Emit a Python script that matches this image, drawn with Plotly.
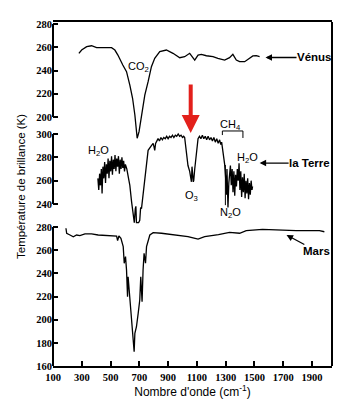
import plotly.graph_objects as go

# ---------------- data (wavenumber cm-1, brightness temperature K) ----------------
venus_wn = [280, 299, 334, 368, 403, 447, 507, 530, 551, 585, 611, 634, 653, 669, 680, 685,
            698, 715, 738, 761, 784, 807, 842, 888, 934, 981, 1015, 1050, 1073, 1085, 1108,
            1131, 1166, 1212, 1246, 1293, 1327, 1350, 1374, 1397, 1432, 1466, 1489, 1513, 1536]
venus_t = [254.8, 257.6, 260.5, 261.3, 259.6, 259.6, 259.6, 257.6, 253.3, 244.7, 239.0, 227.5,
           216.1, 201.7, 187.4, 181.7, 187.4, 201.7, 218.9, 230.4, 243.3, 250.5, 256.2, 257.6,
           254.8, 251.0, 251.9, 254.8, 251.0, 249.0, 253.3, 253.9, 252.7, 251.9, 250.5, 249.0,
           251.0, 253.9, 249.0, 247.6, 247.6, 250.5, 252.5, 252.7, 251.9]

earth_wn = [412, 418, 424, 430, 436, 441, 447, 453, 459, 465, 471, 477, 483, 489, 495, 501,
            507, 513, 519, 525, 531, 537, 543, 549, 555, 561, 567, 573, 579, 585, 591, 597,
            603, 613, 625, 634, 646, 657, 665, 672, 676, 680, 695, 703, 709, 715, 726, 738,
            750, 761, 784, 796, 802, 807, 813, 819, 830, 840, 850, 860, 870, 880, 890, 900,
            910, 920, 930, 940, 950, 960, 970, 980, 990, 1000, 1008, 1015, 1027, 1038, 1050,
            1062, 1066, 1069, 1075, 1078, 1085, 1097, 1108, 1118, 1128, 1138, 1148, 1158, 1168,
            1178, 1188, 1198, 1208, 1218, 1228, 1238, 1248, 1258, 1266, 1272, 1281, 1293, 1300,
            1305, 1309, 1316, 1322, 1327, 1333, 1339, 1345, 1351, 1357, 1363, 1369, 1375, 1381,
            1387, 1393, 1399, 1405, 1411, 1417, 1423, 1429, 1435, 1441, 1447, 1453, 1459, 1465,
            1471, 1477, 1483, 1487]
earth_t = [262, 252, 266, 256, 270, 249, 272, 262, 276, 258, 274, 266, 279, 262, 277, 268,
           281, 265, 278, 270, 282, 268, 279, 272, 281, 266, 278, 270, 280, 271, 277, 268,
           274, 270, 262, 256, 242, 231, 224, 236, 238, 224, 224, 226, 237, 236, 248, 262,
           279, 286, 290, 292, 289, 286, 292, 294, 296, 294, 297, 295, 297, 296, 298, 296,
           298, 297, 299, 297, 299, 298, 300, 298, 299, 297, 298, 297, 286, 273, 268,
           259, 272, 267, 259, 260, 270, 287, 296, 298, 296, 299, 296, 298, 295,
           298, 295, 297, 294, 297, 293, 296, 292, 295, 291, 293, 286, 274, 262,
           248, 270, 237, 258, 265, 273, 256, 270, 250, 268, 247, 265, 255, 270,
           260, 275, 252, 268, 246, 263, 250, 266, 245, 260, 249, 262, 244, 258,
           248, 260, 252, 255]

mars_wn = [190, 195, 218, 241, 264, 287, 322, 368, 414, 483, 542, 549, 558, 572, 588, 595,
           604, 611, 618, 622, 634, 646, 657, 664, 669, 680, 692, 703, 710, 719, 726, 733,
           743, 750, 773, 796, 854, 946, 1038, 1108, 1154, 1250, 1327, 1397, 1443, 1556,
           1674, 1790, 1952, 1986]
mars_t = [278.9, 274.6, 273.1, 271.6, 273.1, 272.5, 274.0, 274.0, 273.1, 272.5, 272.2, 268.2,
          272.2, 270.2, 263.0, 248.7, 254.4, 242.9, 219.8, 237.1, 219.8, 202.6, 188.2, 172.3,
          188.2, 193.9, 205.5, 217.0, 237.1, 215.5, 242.9, 257.3, 248.7, 263.0, 273.1, 275.1,
          274.6, 273.1, 271.6, 269.6, 271.6, 273.5, 275.4, 274.6, 276.8, 278.0, 277.3, 276.8,
          276.8, 275.9]

x_ticks = [100, 300, 500, 700, 900, 1100, 1300, 1500, 1700, 1900]
venus_ticks = [200, 220, 240, 260, 280]
earth_ticks = [240, 260, 280, 300]
mars_ticks = [160, 180, 200, 220, 240, 260, 280]

# ---------------- layout geometry ----------------
W, H = 354, 409
L, R, T, B = 53, 22, 22, 43
TOP_PX, BOT_PX = T, H - B


def axis_range(v1, p1, v2, p2):
    k = (v1 - v2) / (p2 - p1)  # value per pixel (upwards)
    return [v1 - (BOT_PX - p1) * k, v1 + (p1 - TOP_PX) * k]


venus_rng = axis_range(280, 24, 200, 117)
earth_rng = axis_range(300, 134, 240, 204)
mars_rng = axis_range(280, 227, 160, 366)

line = dict(color="black", width=1.3)
fig = go.Figure()
fig.add_trace(go.Scatter(x=mars_wn, y=mars_t, mode="lines", line=line, yaxis="y"))
fig.add_trace(go.Scatter(x=earth_wn, y=earth_t, mode="lines", line=line, yaxis="y2"))
fig.add_trace(go.Scatter(x=venus_wn, y=venus_t, mode="lines", line=line, yaxis="y3"))

tickfont = dict(family="Liberation Serif", size=10.5, color="black", weight="bold")
yax_common = dict(showgrid=False, zeroline=False, showline=False, ticks="inside",
                  ticklen=5, tickwidth=2, tickcolor="black", tickfont=tickfont,
                  side="left", anchor="x", fixedrange=True)

fig.update_layout(
    width=W, height=H,
    margin=dict(l=L, r=R, t=T, b=B, pad=0),
    paper_bgcolor="white", plot_bgcolor="white",
    showlegend=False,
    xaxis=dict(range=[100, 2039], tickvals=x_ticks, showgrid=False, zeroline=False,
               showline=True, linecolor="black", linewidth=2, mirror=True,
               ticks="inside", ticklen=5, tickwidth=2, tickcolor="black",
               tickfont=tickfont,
               title=dict(text="Nombre d'onde (cm<sup>-1</sup>)", standoff=4,
                          font=dict(family="Liberation Sans", size=12, color="black"))),
    yaxis=dict(range=mars_rng, tickvals=mars_ticks, **yax_common),
    yaxis2=dict(range=earth_rng, tickvals=earth_ticks, overlaying="y", **yax_common),
    yaxis3=dict(range=venus_rng, tickvals=venus_ticks, overlaying="y", **yax_common),
)

# axis segments and right frame
seg = dict(color="black", width=2)
fig.add_shape(type="line", xref="paper", x0=0, x1=0, yref="y3", y0=200, y1=280, line=seg)
fig.add_shape(type="line", xref="paper", x0=0, x1=0, yref="y2", y0=240, y1=300, line=seg)
fig.add_shape(type="line", xref="paper", x0=0, x1=0, yref="y", y0=160, y1=280, line=seg)
fig.add_shape(type="line", xref="paper", x0=1, x1=1, yref="paper", y0=0, y1=1, line=seg)

# N2O pointer and CH4 bracket
thin = dict(color="black", width=1)
fig.add_shape(type="line", xref="x", x0=1298, x1=1298, yref="y2", y0=239, y1=273.4, line=thin)
fig.add_shape(type="line", xref="x", x0=1277, x1=1420, yref="y2", y0=302.6, y1=302.6, line=thin)
fig.add_shape(type="line", xref="x", x0=1277, x1=1277, yref="y2", y0=302.6, y1=299.1, line=thin)
fig.add_shape(type="line", xref="x", x0=1420, x1=1420, yref="y2", y0=302.6, y1=296.6, line=thin)

lab = dict(family="Liberation Sans", size=11, color="black")
bold = dict(family="Liberation Sans", size=11.5, color="black", weight="bold")


def text(x, y, yref, s, font=lab):
    fig.add_annotation(x=x, y=y, xref="x", yref=yref, text=s, showarrow=False, font=font,
                       xanchor="center", yanchor="middle")


def labelled_arrow(x, y, yref, s, ax, ay):
    fig.add_annotation(x=x, y=y, xref="x", yref=yref, text=s, font=bold, showarrow=True,
                       ax=ax, ay=ay, axref="pixel", ayref="pixel", arrowhead=2,
                       arrowsize=1, arrowwidth=1.3, arrowcolor="black", borderpad=0)


text(696, 243.0, "y3", "CO<sub>2</sub>")
text(419, 285.4, "y2", "H<sub>2</sub>O")
text(1064, 246.9, "y2", "O<sub>3</sub>")
text(1334, 232.3, "y2", "N<sub>2</sub>O")
text(1334, 307.7, "y2", "CH<sub>4</sub>")
text(1452, 279.4, "y2", "H<sub>2</sub>O")

labelled_arrow(1577, 251.2, "y3", "Vénus", 49, 0)
labelled_arrow(1536, 275.1, "y2", "la Terre", 50, 0)
labelled_arrow(1723, 273.1, "y", "Mars", 30, 16)

# red arrow pointing at the ozone band
fig.add_annotation(x=1057, y=300.9, xref="x", yref="y2", text="", showarrow=True,
                   ax=0, ay=-50, axref="pixel", ayref="pixel", arrowhead=2,
                   arrowsize=0.9, arrowwidth=4, arrowcolor="#e3201b")

fig.add_annotation(xref="paper", yref="paper", x=(21 - L) / (W - L - R),
                   y=(BOT_PX - 187) / (BOT_PX - TOP_PX), text="Température de brillance (K)",
                   textangle=-90, showarrow=False, xanchor="center", yanchor="middle",
                   font=dict(family="Liberation Sans", size=11.5, color="black"))

fig.write_html("out.html")
